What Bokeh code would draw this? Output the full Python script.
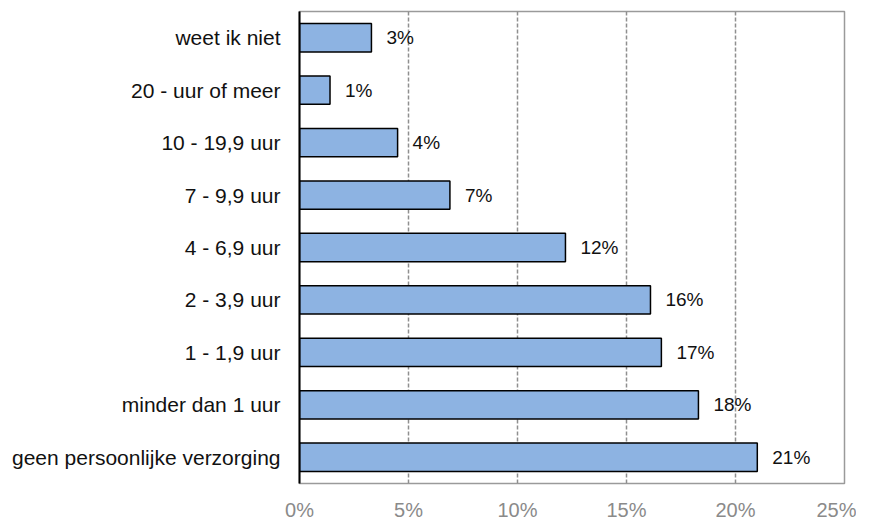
from bokeh.plotting import figure
from bokeh.models import ColumnDataSource, FactorRange, Range1d, FixedTicker, CustomJSTickFormatter, LabelSet
from bokeh.core.properties import value
from bokeh.embed import file_html
from bokeh.resources import INLINE

categories = ["geen persoonlijke verzorging", "minder dan 1 uur", "1 - 1,9 uur", "2 - 3,9 uur",
              "4 - 6,9 uur", "7 - 9,9 uur", "10 - 19,9 uur", "20 - uur of meer", "weet ik niet"]
values = [21.0, 18.3, 16.6, 16.1, 12.2, 6.9, 4.5, 1.4, 3.3]
labels = ["21%", "18%", "17%", "16%", "12%", "7%", "4%", "1%", "3%"]
x_ticks = [0, 5, 10, 15, 20, 25]

FONT = "Liberation Sans"

src = ColumnDataSource(dict(cat=categories, val=values, lab=labels))

p = figure(y_range=FactorRange(factors=categories, range_padding=0),
           x_range=Range1d(0, 25),
           frame_width=545, frame_height=472,
           min_border_left=299, min_border_top=11, min_border_right=12, min_border_bottom=20,
           output_backend="svg", toolbar_location=None)

p.hbar(y="cat", right="val", left=0, height=0.54, source=src,
       fill_color="#8DB3E2", line_color="black", line_width=1.5)

lbl = LabelSet(x="val", y="cat", text="lab", source=src, x_offset=15,
               text_font=value(FONT), text_font_size="19px", text_baseline="middle",
               text_color="#111111")
p.add_layout(lbl)

p.xaxis.ticker = FixedTicker(ticks=x_ticks)
p.xaxis.formatter = CustomJSTickFormatter(code="return tick + '%';")
p.xaxis.major_label_text_font = FONT
p.xaxis.major_label_text_font_size = "20px"
p.xaxis.major_label_text_color = "#8a8a8a"
p.xaxis.major_tick_line_color = None
p.xaxis.minor_tick_line_color = None
p.xaxis.axis_line_color = None
p.xaxis.major_label_standoff = 9

p.yaxis.major_label_text_font = FONT
p.yaxis.major_label_text_font_size = "21px"
p.yaxis.major_label_text_color = "#111111"
p.yaxis.major_tick_line_color = None
p.yaxis.minor_tick_line_color = None
p.yaxis.axis_line_color = "black"
p.yaxis.axis_line_width = 2
p.yaxis.major_label_standoff = 13

p.ygrid.grid_line_color = None
p.xgrid.ticker = FixedTicker(ticks=[5, 10, 15, 20])
p.xgrid.grid_line_color = "#8f8f8f"
p.xgrid.grid_line_dash = "4 2"
p.xgrid.grid_line_width = 1.5

p.outline_line_color = "#9a9a9a"
p.outline_line_width = 1.5

open("out.html", "w").write(file_html(p, INLINE))
